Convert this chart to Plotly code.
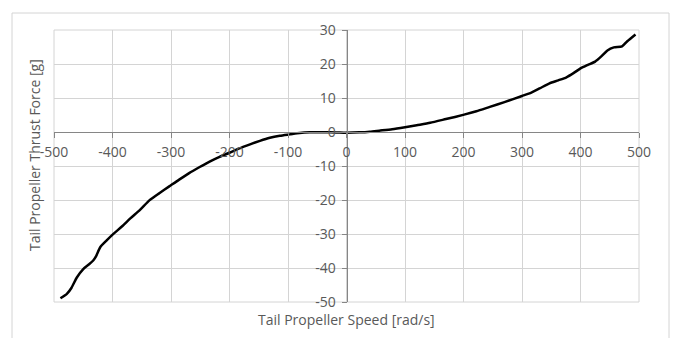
import plotly.graph_objects as go

# Measured tail propeller thrust versus propeller speed
speed_rad_s = [-489, -478, -470, -461, -450, -440, -433, -428, -421, -410,
               -398, -384, -370, -353, -337, -320, -303, -286, -269, -251,
               -234, -217, -200, -183, -166, -148, -131, -114, -97, -80,
               -63, -45, -28, -12, 0, 22, 40, 56, 78, 100,
               120, 143, 170, 201, 222, 245, 270, 300, 316, 330,
               347, 362, 376, 388, 400, 412, 425, 436, 446, 457,
               471, 480, 494]
thrust_g = [-48.9, -47.6, -45.8, -42.8, -40.3, -38.9, -37.8, -36.5, -33.9, -31.9,
            -29.9, -27.8, -25.5, -22.9, -20.1, -18.0, -16.0, -14.0, -12.1, -10.3,
            -8.7, -7.3, -6.1, -4.8, -3.7, -2.6, -1.7, -1.1, -0.7, -0.3,
            -0.1, -0.05, -0.05, -0.15, -0.2, -0.1, 0.1, 0.4, 0.8, 1.4,
            2.0, 2.7, 3.8, 5.1, 6.1, 7.4, 8.8, 10.6, 11.6, 12.8,
            14.3, 15.2, 16.1, 17.3, 18.7, 19.7, 20.7, 22.3, 24.0, 24.9,
            25.2, 26.7, 28.7]

x_ticks = [-500, -400, -300, -200, -100, 0, 100, 200, 300, 400, 500]
y_ticks = [-50, -40, -30, -20, -10, 0, 10, 20, 30]

x_title = "Tail Propeller Speed [rad/s]"
y_title = "Tail Propeller Thrust Force [g]"

FONT = "Open Sans"
FS = 14
TEXT = "#595959"
GRID = "#d4d4d4"
AXIS = "#868686"

fig = go.Figure()
fig.add_trace(go.Scatter(
    x=speed_rad_s, y=thrust_g, mode="lines",
    line=dict(color="#000000", width=2.5, shape="spline", smoothing=0.6),
    hoverinfo="skip", showlegend=False,
))

y_min, y_max = -50, 30
x_min, x_max = -500, 500

fig.update_layout(
    width=675, height=338,
    margin=dict(l=54, r=36, t=30, b=36),
    paper_bgcolor="white", plot_bgcolor="white",
    font=dict(family=FONT, size=FS, color=TEXT),
    xaxis=dict(
        range=[x_min, x_max], tickvals=x_ticks, ticktext=[str(v) for v in x_ticks],
        showgrid=True, gridcolor=GRID, gridwidth=1, zeroline=False,
        showline=True, linecolor=AXIS, linewidth=1,
        ticks="outside", ticklen=5, tickcolor=AXIS,
        anchor="free", position=(0 - y_min) / (y_max - y_min),
        ticklabelstandoff=2,
        tickfont=dict(family=FONT, size=FS, color=TEXT),
    ),
    yaxis=dict(
        range=[y_min, y_max], tickvals=y_ticks, ticktext=[str(v) for v in y_ticks],
        showgrid=True, gridcolor=GRID, gridwidth=1, zeroline=False,
        showline=True, linecolor=AXIS, linewidth=1,
        ticks="outside", ticklen=5, tickcolor=AXIS,
        anchor="free", position=(0 - x_min) / (x_max - x_min),
        ticklabelstandoff=3,
        tickfont=dict(family=FONT, size=FS, color=TEXT),
    ),
    shapes=[
        # plot area frame
        dict(type="rect", xref="paper", yref="paper", x0=0, x1=1, y0=0, y1=1,
             line=dict(color=GRID, width=1), layer="below"),
        # chart area frame
        dict(type="rect", xref="paper", yref="paper",
             x0=(12 - 54) / 585, x1=(669 - 54) / 585,
             y0=-0.3, y1=(302 - 13) / 272,
             line=dict(color=GRID, width=1), layer="below"),
    ],
    annotations=[
        dict(text=x_title, xref="paper", yref="paper", x=0.5, y=(302 - 319) / 272,
             xanchor="center", yanchor="middle", showarrow=False,
             font=dict(family=FONT, size=FS, color=TEXT)),
        dict(text=y_title, xref="paper", yref="paper", x=(34 - 54) / 585,
             y=(302 - 155) / 272,
             xanchor="center", yanchor="middle", textangle=-90, showarrow=False,
             font=dict(family=FONT, size=FS, color=TEXT)),
    ],
)

fig.write_html("out.html")
